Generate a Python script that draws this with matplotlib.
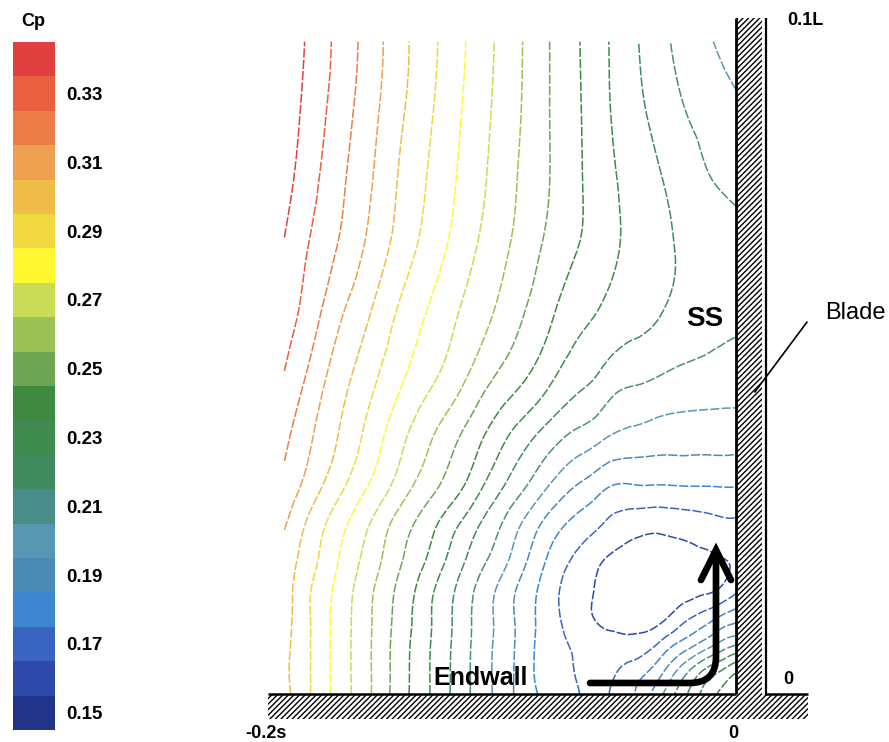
import numpy as np
import matplotlib
matplotlib.use("Agg")
import matplotlib.pyplot as plt
import matplotlib.tri as mtri
from matplotlib.colors import ListedColormap, BoundaryNorm
from matplotlib.patches import Rectangle, PathPatch
from matplotlib.path import Path
import matplotlib as mpl

plt.rcParams['font.family'] = ['Liberation Sans', 'DejaVu Sans']
plt.rcParams['hatch.linewidth'] = 1.0

# ---- Cp levels and colour bands -------------------------------------------
cp_levels = [0.15, 0.16, 0.17, 0.18, 0.19, 0.20, 0.21, 0.22, 0.23, 0.24,
             0.25, 0.26, 0.27, 0.28, 0.29, 0.30, 0.31, 0.32, 0.33, 0.34]
band_colors = ['#22338a', '#2d4aaa', '#3a64c2', '#3e86d0', '#4a8ab4',
               '#5797b2', '#4a8c88', '#428a60', '#3f8a4e', '#3d8a40',
               '#6ea552', '#9cc255', '#cadc55', '#fff830', '#f2d840',
               '#f0bc48', '#eca050', '#ec7c48', '#e86040', '#e04040']
cbar_ticks = [0.15, 0.17, 0.19, 0.21, 0.23, 0.25, 0.27, 0.29, 0.31, 0.33]

# ---- measurement grid: pitchwise (x / s) and spanwise (y / L) -------------
x_pos = [-0.193, -0.182, -0.169, -0.156, -0.144, -0.131, -0.118, -0.105,
         -0.092, -0.080, -0.067, -0.060, -0.054, -0.043, -0.032, -0.022,
         -0.013, -0.006, 0.0]
y_pos = [0.0965, 0.0865, 0.076, 0.0655, 0.0555, 0.045, 0.0375, 0.030,
         0.0245, 0.020, 0.0155, 0.011, 0.0072, 0.0035, 0.0]

cp_y0965 = [0.3470, 0.3380, 0.3265, 0.3150, 0.3037, 0.2929, 0.2821, 0.2714, 0.2607, 0.2503,
            0.2402, 0.2349, 0.2297, 0.2210, 0.2129, 0.2064, 0.2018, 0.1980, 0.1950]
cp_y0865 = [0.3460, 0.3363, 0.3248, 0.3133, 0.3022, 0.2914, 0.2807, 0.2703, 0.2602, 0.2503,
            0.2406, 0.2355, 0.2303, 0.2225, 0.2160, 0.2101, 0.2069, 0.2042, 0.2020]
cp_y0760 = [0.3435, 0.3335, 0.3219, 0.3107, 0.2993, 0.2890, 0.2787, 0.2687, 0.2589, 0.2503,
            0.2409, 0.2365, 0.2321, 0.2260, 0.2204, 0.2152, 0.2110, 0.2090, 0.2078]
cp_y0655 = [0.3390, 0.3290, 0.3184, 0.3067, 0.2959, 0.2854, 0.2752, 0.2656, 0.2563, 0.2474,
            0.2395, 0.2358, 0.2322, 0.2270, 0.2224, 0.2187, 0.2164, 0.2145, 0.2130]
cp_y0555 = [0.3346, 0.3244, 0.3105, 0.2992, 0.2881, 0.2784, 0.2691, 0.2603, 0.2506, 0.2415,
            0.2322, 0.2295, 0.2267, 0.2230, 0.2196, 0.2165, 0.2144, 0.2126, 0.2115]
cp_y0450 = [0.3280, 0.3161, 0.3027, 0.2912, 0.2804, 0.2702, 0.2603, 0.2484, 0.2390, 0.2294,
            0.2205, 0.2172, 0.2125, 0.2090, 0.2065, 0.2047, 0.2039, 0.2033, 0.2031]
cp_y0375 = [0.3220, 0.3109, 0.2986, 0.2854, 0.2729, 0.2608, 0.2492, 0.2365, 0.2240, 0.2139,
            0.2054, 0.2019, 0.1983, 0.1956, 0.1939, 0.1937, 0.1935, 0.1937, 0.1934]
cp_y0300 = [0.3162, 0.3045, 0.2909, 0.2775, 0.2648, 0.2524, 0.2404, 0.2250, 0.2109, 0.1980,
            0.1870, 0.1825, 0.1782, 0.1774, 0.1773, 0.1779, 0.1781, 0.1785, 0.1785]
cp_y0245 = [0.3103, 0.2968, 0.2825, 0.2686, 0.2550, 0.2428, 0.2285, 0.2143, 0.1991, 0.1850,
            0.1750, 0.1708, 0.1668, 0.1626, 0.1616, 0.1631, 0.1649, 0.1668, 0.1669]
cp_y0200 = [0.3050, 0.2940, 0.2791, 0.2652, 0.2517, 0.2384, 0.2230, 0.2090, 0.1938, 0.1788,
            0.1675, 0.1625, 0.1590, 0.1565, 0.1560, 0.1565, 0.1580, 0.1598, 0.1610]
cp_y0155 = [0.3050, 0.2905, 0.2762, 0.2615, 0.2480, 0.2326, 0.2175, 0.2025, 0.1878, 0.1748,
            0.1634, 0.1595, 0.1550, 0.1540, 0.1540, 0.1555, 0.1578, 0.1615, 0.1677]
cp_y0110 = [0.3040, 0.2902, 0.2752, 0.2605, 0.2465, 0.2311, 0.2160, 0.2014, 0.1871, 0.1743,
            0.1639, 0.1598, 0.1580, 0.1575, 0.1585, 0.1685, 0.1763, 0.1836, 0.1877]
cp_y0072 = [0.3030, 0.2902, 0.2750, 0.2602, 0.2455, 0.2305, 0.2155, 0.2010, 0.1870, 0.1744,
            0.1680, 0.1640, 0.1630, 0.1635, 0.1730, 0.1850, 0.1956, 0.2044, 0.2102]
cp_y0035 = [0.3020, 0.2902, 0.2750, 0.2602, 0.2453, 0.2302, 0.2152, 0.2007, 0.1866, 0.1746,
            0.1685, 0.1640, 0.1672, 0.1750, 0.1872, 0.2060, 0.2217, 0.2302, 0.2380]
cp_y0000 = [0.3030, 0.2902, 0.2750, 0.2602, 0.2450, 0.2302, 0.2150, 0.2009, 0.1867, 0.1770,
            0.1702, 0.1655, 0.1702, 0.1802, 0.1983, 0.2177, 0.2340, 0.2420, 0.2450]

cp_rows = [cp_y0965, cp_y0865, cp_y0760, cp_y0655, cp_y0555, cp_y0450, cp_y0375,
           cp_y0300, cp_y0245, cp_y0200, cp_y0155, cp_y0110, cp_y0072, cp_y0035,
           cp_y0000]

# ---- figure ---------------------------------------------------------------
W, H = 889, 742
fig = plt.figure(figsize=(W / 100, H / 100), dpi=100, facecolor='white')

ax = fig.add_axes([268 / W, 48 / H, 468 / W, 676 / H])
ax.set_xlim(-0.2, 0.0)
ax.set_ylim(0.0, 0.1)
ax.axis('off')

X, Y = np.meshgrid(x_pos, y_pos)
Z = np.array(cp_rows)
tri = mtri.Triangulation(X.ravel(), Y.ravel())
interp = mtri.CubicTriInterpolator(tri, Z.ravel(), kind='min_E')
refiner = mtri.UniformTriRefiner(tri)
tri_f, z_f = refiner.refine_field(Z.ravel(), triinterpolator=interp, subdiv=3)
cs = ax.tricontour(tri_f, z_f, levels=cp_levels, colors=band_colors,
                   linewidths=1.1)
cs.set_linestyle((0, (6, 1.4)))

# ---- walls ----------------------------------------------------------------
wall_kw = dict(facecolor='white', edgecolor='black', linewidth=0,
               hatch='//////', clip_on=False, zorder=3)
ax.add_patch(Rectangle((-0.2, -0.0037), 0.2308, 0.0037, **wall_kw))
ax.add_patch(Rectangle((0.0, 0.0), 0.0111, 0.1, **wall_kw))
line_kw = dict(color='black', clip_on=False, zorder=4, solid_capstyle='butt')
ax.plot([-0.2, 0.0], [0.0, 0.0], lw=1.8, **line_kw)
ax.plot([0.0128, 0.0308], [0.0, 0.0], lw=1.8, **line_kw)
ax.plot([0.0, 0.0], [0.0, 0.1], lw=2.0, **line_kw)
ax.plot([0.0128, 0.0128], [-0.0003, 0.1], lw=1.6, **line_kw)

# leader line to the blade label
ax.plot([0.0081, 0.0303], [0.0447, 0.0550], color='black', lw=1.2,
        clip_on=False, zorder=5)

# ---- secondary-flow arrow along endwall and up the suction side -----------
arrow_path = Path([(-0.0624, 0.00163), (-0.0197, 0.00163), (-0.00855, 0.00163),
                   (-0.00855, 0.00547), (-0.00855, 0.02086)],
                  [Path.MOVETO, Path.LINETO, Path.CURVE3, Path.CURVE3,
                   Path.LINETO])
ax.add_patch(PathPatch(arrow_path, facecolor='none', edgecolor='black',
                       lw=4.8, capstyle='round', joinstyle='round', zorder=6))
ax.plot([-0.01496, -0.00855, -0.00214], [0.01686, 0.0213, 0.01686],
        color='black', lw=4.8, solid_capstyle='round',
        solid_joinstyle='miter', zorder=6)

# ---- labels ---------------------------------------------------------------
bold = dict(fontweight='bold', color='black', clip_on=False)
ax.text(-0.0132, 0.0555, 'SS', fontsize=20, ha='center', va='center', **bold)
ax.text(-0.109, 0.00237, 'Endwall', fontsize=18, ha='center', va='center',
        zorder=7, **bold)
ax.text(0.0218, 0.0996, '0.1L', fontsize=13, ha='left', va='center', **bold)
ax.text(0.0222, 0.0022, '0', fontsize=13, ha='center', va='center', **bold)
ax.text(-0.0013, -0.0059, '0', fontsize=13, ha='center', va='center', **bold)
ax.text(-0.2009, -0.0058, '-0.2s', fontsize=13, ha='center', va='center', **bold)
ax.text(0.0380, 0.0564, 'Blade', fontsize=17, ha='left', va='center',
        color='black', clip_on=False)

# ---- colour bar -----------------------------------------------------------
cax = fig.add_axes([13 / W, 12 / H, 42 / W, 688 / H])
bounds = np.round(np.arange(0.145, 0.3451, 0.01), 3)
cmap = ListedColormap(band_colors)
norm = BoundaryNorm(bounds, cmap.N)
cb = mpl.colorbar.ColorbarBase(cax, cmap=cmap, norm=norm, ticks=cbar_ticks,
                               orientation='vertical')
cb.outline.set_visible(False)
cax.minorticks_off()
cax.tick_params(which='both', length=0, pad=8)
cax.set_yticklabels([f'{t:.2f}' for t in cbar_ticks], fontsize=13.5,
                    fontweight='bold')
fig.text(33 / W, 1 - 22 / H, 'Cp', fontsize=13, fontweight='bold',
         ha='center', va='center')

fig.savefig('out.png', dpi=100, facecolor='white')
